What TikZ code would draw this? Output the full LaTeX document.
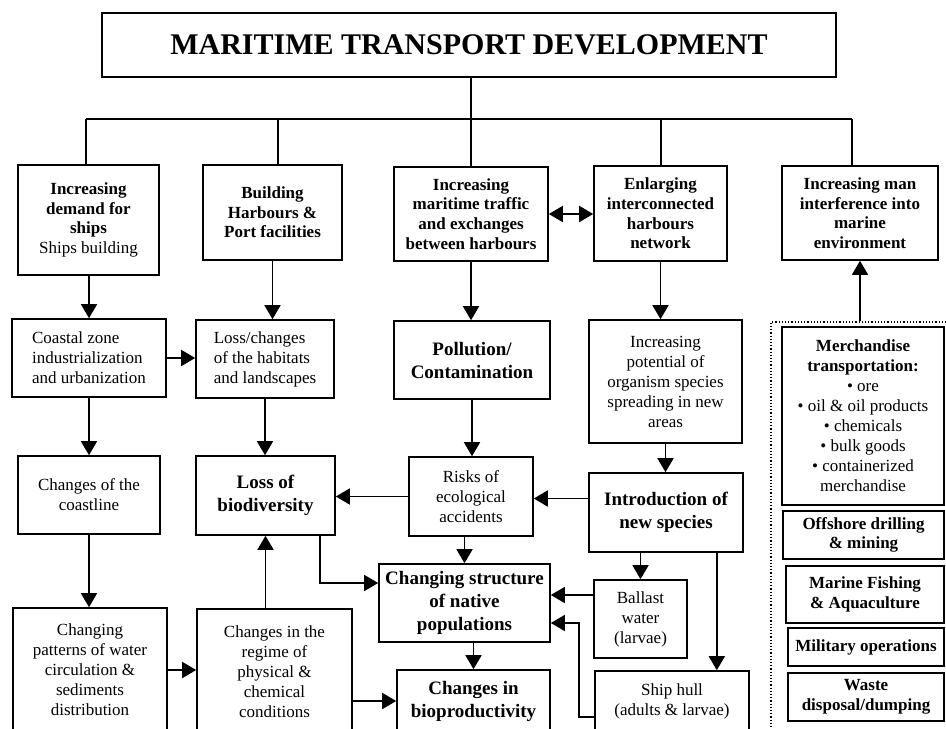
\documentclass[tikz,border=0pt]{standalone}
\usepackage{fontspec}
\setmainfont{Liberation Serif}
\usetikzlibrary{arrows.meta}

\begin{document}
\begin{tikzpicture}[
x=0.5pt, y=-0.5pt,
>={Triangle[length=7pt,width=8pt]},
line/.style={draw,line width=0.8pt},
arr/.style={line,->},
sz/.style 2 args={minimum width=#1pt,minimum height=#2pt},
box/.style={draw,line width=0.8pt,align=center,inner sep=1pt,font=\fontsize{8.5}{10}\selectfont},
boldbox/.style={box,font=\fontsize{8.5}{9.8}\selectfont\bfseries},
bigbox/.style={box,font=\fontsize{9.5}{11.5}\selectfont\bfseries},
title/.style={draw,line width=1pt,font=\fontsize{15}{18}\selectfont\bfseries},
panel/.style={draw,densely dotted,line width=0.6pt}
]
\useasboundingbox (0,0) rectangle (946,728);
\clip (0,0) rectangle (946,728);

\node[title,sz={367}{32}] (title) at (469,45) {MARITIME TRANSPORT DEVELOPMENT};

%first row
\node[boldbox,sz={70.5}{55}] (demand) at (88.5,220) {Increasing\\demand for\\ships\\{\mdseries Ships building}};
\node[boldbox,sz={69.5}{47.5}] (harbours) at (272.5,212.5) {Building\\Harbours \&\\Port facilities};
\node[boldbox,sz={77}{47}] (traffic) at (471,214) {Increasing\\maritime traffic\\and exchanges\\between harbours};
\node[boldbox,sz={66.5}{47.5}] (network) at (660.5,213.5) {Enlarging\\interconnected\\harbours\\network};
\node[boldbox,sz={78}{47}] (maninter) at (860,213) {Increasing man\\interference into\\marine\\environment};

%second row
\node[box,align=left,sz={77}{39}] (coastal) at (89,358) {Coastal zone\\industrialization\\and urbanization};
\node[box,align=left,sz={69}{39}] (habitats) at (265,359) {Loss/changes\\of the habitats\\and landscapes};
\node[bigbox,sz={78}{39}] (pollution) at (472,360) {Pollution/\\Contamination};
\node[box,sz={76.5}{61.5}] (potential) at (665.5,381.5) {Increasing\\potential of\\organism species\\spreading in new\\areas};

%activities
\node[panel,sz={90.5}{209}] (panel) at (861.5,531) {};
	\node[box,sz={81}{89}] (merch) at (863,416) {{\bfseries Merchandise}\\{\bfseries transportation:}\\\textbullet{} ore\\\textbullet{} oil \& oil products\\\textbullet{} chemicals\\\textbullet{} bulk goods\\\textbullet{} containerized\\merchandise};
	\node[boldbox,sz={80.5}{24}] (offshore) at (863.5,535) {Offshore drilling\\\& mining};
	\node[boldbox,sz={79}{28.5}] (fishing) at (865,594.5) {Marine Fishing\\\& Aquaculture};
	\node[boldbox,sz={78}{19}] (military) at (866,647) {Military operations};
	\node[boldbox,sz={78}{24}] (waste) at (866,697) {Waste\\disposal/dumping};

%third row
\node[box,sz={71}{39}] (coastline) at (89,495) {Changes of the\\coastline};
\node[bigbox,sz={69.5}{39.5}] (biodiv) at (265.5,495.5) {Loss of\\biodiversity};
\node[box,sz={62}{39.5}] (risks) at (471,496.5) {Risks of\\ecological\\accidents};
\node[bigbox,sz={77}{39.5}] (intro) at (666,512.5) {Introduction of\\new species};

%fourth row
\node[bigbox,sz={85.5}{39}] (structure) at (464.5,603) {Changing structure\\of native\\populations};
\node[box,sz={46.5}{39}] (ballast) at (640.5,619) {Ballast\\water\\(larvae)};
\node[box,sz={77}{30}] (hull) at (672,701) {Ship hull\\(adults \& larvae)};
\node[bigbox,sz={76.5}{31}] (bioprod) at (473.5,701) {Changes in\\bioproductivity};
\node[box,sz={77}{62}] (patterns) at (90,670) {Changing\\patterns of water\\circulation \&\\sediments\\distribution};
\node[box,sz={77.5}{63}] (regime) at (274.5,672) {Changes in the\\regime of\\physical \&\\chemical\\conditions};

%bus
\coordinate (busL) at (86,119);
\coordinate (busR) at (852,119);
\path[line] (busL) -- (busR);
\path[line] (title.south -| traffic.north) -- (traffic.north);
	\path[line] (busL) -- (busL |- demand.north);
	\path[line] (278,119) -- (278,165);
	\path[line] (661,119) -- (661,166);
	\path[line] (busR) -- (busR |- maninter.north);

\path[line,<->] (traffic.east) -- (traffic.east -| network.west);

\path[arr] (demand.south -| coastal.north) -- (coastal.north);
\path[arr] (harbours.south) -- (harbours.south |- habitats.north);
\path[arr] (traffic.south) -- (traffic.south |- pollution.north);
\path[arr] (network.south) -- (network.south |- potential.north);
\path[arr] (panel.north -| maninter.south) -- (maninter.south);
\path[arr] (coastal.east) -- (coastal.east -| habitats.west);

\path[arr] (coastal.south) -- (coastal.south |- coastline.north);
\path[arr] (habitats.south) -- (habitats.south |- biodiv.north);
\path[arr] (pollution.south) -- (pollution.south |- risks.north);
\path[arr] (potential.south) -- (potential.south |- intro.north);
\path[arr] (risks.west) -- (risks.west -| biodiv.east);
\path[arr] ([yshift=7pt]intro.west) -- ([yshift=7pt]intro.west -| risks.east);

\path[arr] (coastline.south) -- (coastline.south |- patterns.north);
\path[arr] (biodiv.south |- regime.north) -- (biodiv.south);
\path[arr] (patterns.east) -- (patterns.east -| regime.west);
\path[arr] ([yshift=-14.5pt]regime.east) -- ([yshift=-14.5pt]regime.east -| bioprod.west);

\path[arr] ([xshift=-8pt]biodiv.south east) |- ([yshift=10pt]structure.west);
\path[arr] (structure.north |- risks.south) -- (structure.north);
\path[arr] (ballast.north |- intro.south) -- (ballast.north);
\path[arr] ([xshift=-13.5pt]intro.south east) -- ([xshift=-13.5pt]intro.south east |- hull.north);
\path[arr] ([yshift=12pt]ballast.west) -- ([yshift=12pt]ballast.west -| structure.east);
\path[arr] ([yshift=-8pt]hull.west) -- ++(-7.5pt,0) |- ([yshift=-10pt]structure.east);
\path[arr] (bioprod.north |- structure.south) -- (bioprod.north);

\end{tikzpicture}
\end{document}
